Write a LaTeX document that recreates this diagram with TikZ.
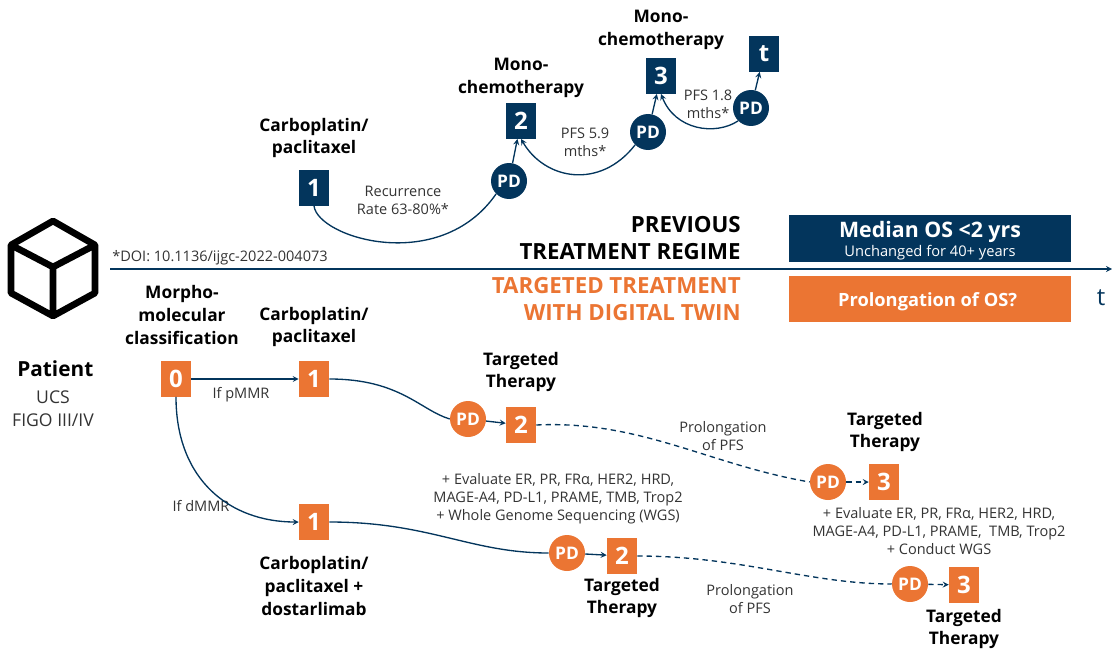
\documentclass[tikz,border=0pt]{standalone}
\usepackage{fontspec}
\setmainfont{Open Sans}
\usetikzlibrary{shapes.geometric,arrows}
\definecolor{navy}{HTML}{03355C}
\definecolor{tumor}{HTML}{EB7533}
\definecolor{bodytext}{HTML}{333333}
\tikzstyle{stepblue} = 
[
	rectangle, 
	minimum width = 22.5pt, 
	minimum height = 26.5pt, 
	inner sep = 0pt,
	text = white,
	font = \fontsize{18}{18}\selectfont\bfseries,
	fill = navy
]
\tikzstyle{steporange} = 
[
	stepblue, 
	fill = tumor
]
\tikzstyle{pdblue} = 
[
	circle, 
	minimum size = 27pt, 
	inner sep = 0pt,
	text = white,
	font = \fontsize{13}{13}\selectfont\bfseries,
	fill = navy
]
\tikzstyle{pdorange} = 
[
	pdblue, 
	fill = tumor
]
\tikzstyle{title} = 
[
	align = center,
	inner sep = 0pt,
	text = black,
	font = \fontsize{13}{17}\selectfont\bfseries
]
\tikzstyle{note} = 
[
	align = center,
	inner sep = 0pt,
	text = bodytext,
	font = \fontsize{10.9}{13.5}\selectfont
]
\tikzstyle{regime} = 
[
	align = right,
	anchor = east,
	inner sep = 0pt,
	font = \fontsize{16.7}{20.3}\selectfont\bfseries
]
\tikzstyle{banner} = 
[
	rectangle,
	minimum width = 211.5pt,
	minimum height = 35pt,
	inner sep = 0pt,
	align = center,
	text = white
]
\tikzstyle{arrow} = [line width=1pt,navy,->,>=stealth]
\tikzstyle{curve} = [line width=1pt,navy]
\tikzstyle{dashline} = [curve,dash pattern=on 4pt off 3pt]
\begin{document}
\begin{tikzpicture}[x=0.75pt,y=-0.75pt]
	\useasboundingbox (0,0) rectangle (1112,649);

	% cube
	\draw [line width=5pt, line join=round, black]
		(53,221) -- (95,245) -- (95,293) -- (53,316) -- (11,293) -- (11,245) -- cycle
		(11,245) -- (53,267) -- (95,245)
		(53,267) -- (53,316);

	% time axis
	\coordinate (AxisStart) at (110,269);
	\coordinate (AxisEnd) at (1112,269);
	\draw [arrow] (AxisStart) -- (AxisEnd);

	\node (Doi) [note, anchor = west] at (112,258) {*DOI: 10.1136/ijgc-2022-004073};
	\node (AxisLabel) [text = navy, font = \fontsize{18}{18}\selectfont] at (1101,298) {t};

	\node
	(Patient)
	[
		title,
		font = \fontsize{15.6}{15.6}\selectfont\bfseries
	]
	at (58,369)
	{
		Patient
	};
	\node
	(PatientInfo)
	[
		note,
		font = \fontsize{13.2}{17.3}\selectfont
	]
	at (53,409)
	{
		UCS\\FIGO III/IV
	};

	% previous regime
	\node (BlueOne) [stepblue] at (314,188) {1};
	\node (BlueTwo) [stepblue] at (521,121) {2};
	\node (BlueThree) [stepblue] at (661,76) {3};
	\node (BlueEnd) [stepblue] at (764,54) {t};
	\node (BluePdOne) [pdblue] at (509,181) {PD};
	\node (BluePdTwo) [pdblue] at (648,132) {PD};
	\node (BluePdThree) [pdblue] at (751,108) {PD};

	\node (BlueOneTitle) [title] at (314,138) {Carboplatin/\\paclitaxel};
	\node (BlueTwoTitle) [title] at (521,78) {Mono-\\chemotherapy};
	\node (BlueThreeTitle) [title] at (661,30) {Mono-\\chemotherapy};

	\node (Recurrence) [note] at (403,200) {Recurrence\\Rate 63-80\%*};
	\node (PfsOne) [note] at (585,142) {PFS 5.9\\mths*};
	\node (PfsTwo) [note] at (708,104) {PFS 1.8\\mths*};

	\draw [curve] (BlueOne.south) .. controls (318,238) and (440,275) .. (BluePdOne.south west);
	\draw [arrow] (BluePdOne) -- (BlueTwo);
	\draw [arrow] (BluePdTwo.south west) .. controls (600,190) and (545,180) .. (BlueTwo.south);
	\draw [arrow] (BluePdTwo) -- (BlueThree);
	\draw [arrow] (BluePdThree.south west) .. controls (715,136) and (675,130) .. (BlueThree.south);
	\draw [arrow] (BluePdThree) -- (BlueEnd);

	\node (RegimeOld) [regime, text = black] at (741,238) {PREVIOUS\\TREATMENT REGIME};
	\node (RegimeNew) [regime, text = tumor] at (741,299) {TARGETED TREATMENT\\WITH DIGITAL TWIN};

	\node
	(BannerOld)
	[
		banner,
		fill = navy
	]
	at (930,238.5)
	{
		{\fontsize{16}{17}\selectfont\bfseries\rule{0pt}{15pt}Median OS <2 yrs}\\[0.7pt]
		{\fontsize{11}{11}\selectfont Unchanged for 40+ years}
	};
	\node
	(BannerNew)
	[
		banner,
		fill = tumor,
		font = \fontsize{13.7}{14}\selectfont\bfseries
	]
	at (930,299)
	{
		\rule{0pt}{14.5pt}Prolongation of OS?
	};

	% targeted treatment
	\node (OrangeZero) [steporange] at (176,379) {0};
	\node (OrangeOneA) [steporange] at (314,379) {1};
	\node (OrangePdA) [pdorange] at (468,419) {PD};
	\node (OrangeTwoA) [steporange] at (521,425) {2};
	\node (OrangePdB) [pdorange] at (828,482) {PD};
	\node (OrangeThreeA) [steporange] at (884,482) {3};
	\node (OrangeOneB) [steporange] at (314,522) {1};
	\node (OrangePdC) [pdorange] at (567,553) {PD};
	\node (OrangeTwoB) [steporange] at (622,556) {2};
	\node (OrangePdD) [pdorange] at (910,584) {PD};
	\node (OrangeThreeB) [steporange] at (964,585) {3};

	\node (ZeroTitle) [title] at (182,315) {Morpho-\\molecular\\classification};
	\node (OneATitle) [title] at (314,327) {Carboplatin/\\paclitaxel};
	\node (TwoATitle) [title] at (521,372) {Targeted\\Therapy};
	\node (ThreeATitle) [title] at (885,432) {Targeted\\Therapy};
	\node (OneBTitle) [title] at (314,586) {Carboplatin/\\paclitaxel +\\dostarlimab};
	\node (TwoBTitle) [title] at (622,598) {Targeted\\Therapy};
	\node (ThreeBTitle) [title] at (964,629) {Targeted\\Therapy};

	\node (IfP) [note] at (241,395) {If pMMR};
	\node (IfD) [note] at (201,506) {If dMMR};
	\node (ProlongA) [note] at (723,436) {Prolongation\\of PFS};
	\node (ProlongB) [note] at (750,599) {Prolongation\\of PFS};
	\node (EvalA) [note] at (558,499) {+ Evaluate ER, PR, FRα, HER2, HRD,\\MAGE-A4, PD-L1, PRAME, TMB, Trop2\\+ Whole Genome Sequencing (WGS)};
	\node (EvalB) [note] at (939,531) {+ Evaluate ER, PR, FRα, HER2, HRD,\\MAGE-A4, PD-L1, PRAME,\ \ TMB, Trop2\\+ Conduct WGS};

	\draw [arrow] (OrangeZero) -- (OrangeOneA);
	\draw [curve] (OrangeOneA.east) .. controls (400,379) and (420,410) .. (OrangePdA.west);
	\draw [arrow] (OrangePdA) -- (OrangeTwoA);
	\draw [dashline] (OrangeTwoA.east) .. controls (640,420) and (710,465) .. (OrangePdB.west);
	\draw [arrow, dash pattern=on 4pt off 3pt] (OrangePdB) -- (OrangeThreeA);
	\draw [arrow] (OrangeZero.south) .. controls (176,480) and (230,522) .. (OrangeOneB.west);
	\draw [curve] (OrangeOneB.east) .. controls (430,522) and (470,553) .. (OrangePdC.west);
	\draw [arrow] (OrangePdC) -- (OrangeTwoB);
	\draw [dashline] (OrangeTwoB.east) .. controls (740,556) and (810,584) .. (OrangePdD.west);
	\draw [arrow, dash pattern=on 4pt off 3pt] (OrangePdD) -- (OrangeThreeB);
\end{tikzpicture}
\end{document}
